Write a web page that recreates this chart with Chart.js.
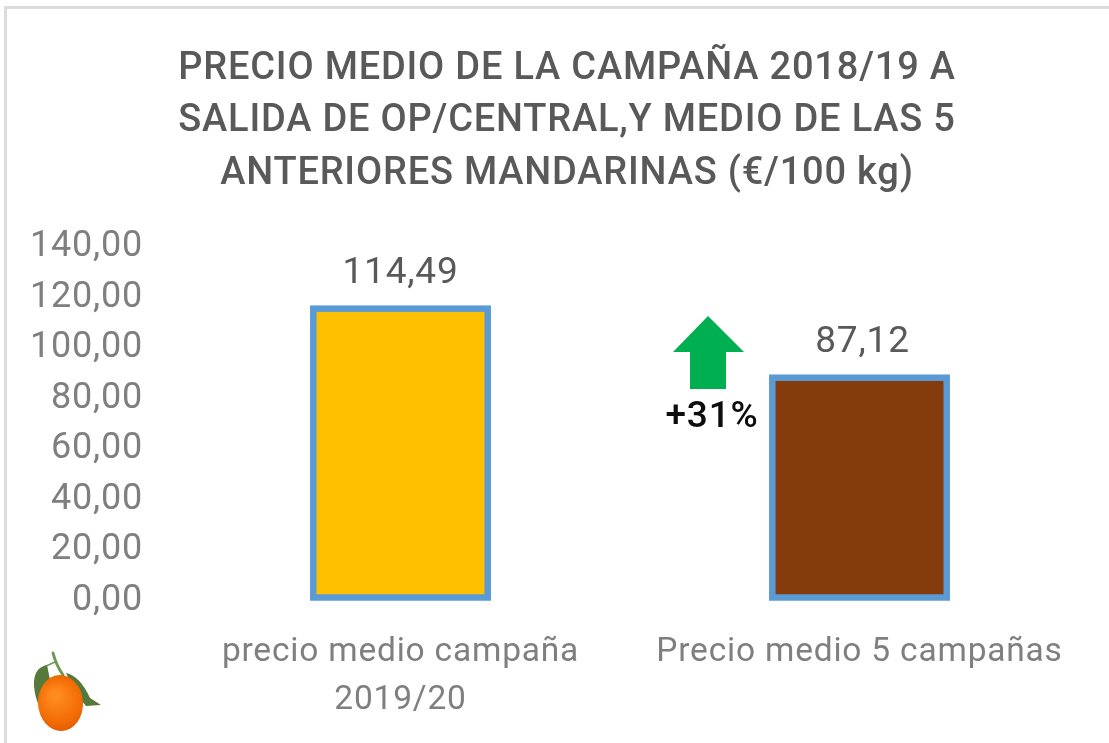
<!DOCTYPE html>
<html><head><meta charset="utf-8">
<style>
html,body{margin:0;padding:0;background:#fff;width:1109px;height:743px;overflow:hidden}
#frame{position:absolute;left:4px;top:6px;width:1105px;height:737px;box-sizing:border-box;border-left:3px solid #dcdcdc;border-top:3px solid #dcdcdc}
#wrap{position:absolute;left:0;top:0;width:1109px;height:743px}
</style>
<script src="https://cdn.jsdelivr.net/npm/chart.js@4"></script>
</head><body>
<div id="frame"></div>
<div id="wrap"><canvas id="c" width="1109" height="743"></canvas></div>
<script>
const titleLines = ["PRECIO MEDIO DE LA CAMPAÑA 2018/19 A","SALIDA DE OP/CENTRAL,Y MEDIO DE LAS 5","ANTERIORES MANDARINAS (€/100 kg)"];
const categories = [["precio medio campaña","2019/20"],"Precio medio 5 campañas"];
const values = [114.49, 87.12];
const barColors = ["#FFC000","#843C0C"];
const changeLabel = "+31%";
const FONT = "Roboto, sans-serif";
const fmt = v => v.toFixed(2).replace(".", ",");

const extras = {
  id:"extras",
  beforeLayout(chart){ chart.ctx.letterSpacing="0.8px"; },
  afterLayout(chart){ chart.titleBlock.left=25; chart.titleBlock.right=1109; },
  beforeDraw(chart){ chart.ctx.letterSpacing="0.8px"; },
  afterDatasetsDraw(chart){
    const ctx = chart.ctx, x = chart.scales.x, y = chart.scales.y;
    ctx.save();
    // bar outlines centred on the bar edge
    ctx.strokeStyle="#5B9BD5"; ctx.lineWidth=6.5; ctx.lineJoin="miter";
    chart.getDatasetMeta(0).data.forEach(b=>{
      ctx.strokeRect(b.x-b.width/2,b.y,b.width,b.base-b.y);
    });
    // value labels
    ctx.fillStyle="#595959"; ctx.font="400 37px "+FONT; ctx.textAlign="center"; ctx.textBaseline="alphabetic";
    values.forEach((v,i)=>ctx.fillText(fmt(v), x.getPixelForValue(i)+(i?3:0), y.getPixelForValue(v)-26));
    // arrow
    ctx.fillStyle="#00B050";
    ctx.beginPath();
    [[708,316],[744,352],[726,352],[726,389],[690,389],[690,352],[673,352]].forEach((p,i)=>i?ctx.lineTo(p[0],p[1]):ctx.moveTo(p[0],p[1]));
    ctx.closePath(); ctx.fill();
    ctx.fillStyle="#0d0d0d"; ctx.font="500 37px "+FONT;
    ctx.fillText(changeLabel,712,427);
    // mandarin
    ctx.strokeStyle="#6f9a55"; ctx.lineWidth=3; ctx.lineCap="round";
    ctx.beginPath(); ctx.moveTo(53,653); ctx.quadraticCurveTo(56,665,63,675); ctx.stroke();
    ctx.lineWidth=1.5; ctx.beginPath(); ctx.moveTo(55,662); ctx.lineTo(44,667); ctx.stroke();
    ctx.fillStyle="#55793a";
    ctx.beginPath(); ctx.moveTo(47,665); ctx.quadraticCurveTo(33,668,34,686); ctx.quadraticCurveTo(35,698,40,708); ctx.lineTo(50,680); ctx.closePath(); ctx.fill();
    ctx.beginPath(); ctx.moveTo(66,673); ctx.quadraticCurveTo(80,676,90,698); ctx.lineTo(101,705); ctx.lineTo(86,706); ctx.quadraticCurveTo(76,695,66,673); ctx.fill();
    const g = ctx.createRadialGradient(55,695,4,60,702,30);
    g.addColorStop(0,"#ff8a1e"); g.addColorStop(.7,"#f26c05"); g.addColorStop(1,"#e25a00");
    ctx.fillStyle=g;
    ctx.beginPath(); ctx.ellipse(60.5,703,22.5,28,-0.05,0,Math.PI*2); ctx.fill();
    ctx.restore();
  }
};

new Chart(document.getElementById("c"),{
  type:"bar",
  data:{labels:categories,datasets:[{data:values,backgroundColor:barColors,borderWidth:0,barPercentage:1,categoryPercentage:0.38}]},
  options:{
    responsive:false,animation:false,
    layout:{padding:{left:0,right:20,top:43,bottom:17}},
    plugins:{legend:{display:false},tooltip:{enabled:false},
      title:{display:true,text:titleLines,color:"#595959",font:{family:FONT,size:38,weight:"500",lineHeight:1.38},padding:{top:0,bottom:44}}},
    scales:{
      x:{grid:{display:false},border:{display:false},
         afterFit(s){s.height=128.5;},
         ticks:{color:"#7f7f7f",font:{family:FONT,size:33.5,lineHeight:1.44},padding:23,maxRotation:0,autoSkip:false}},
      y:{min:0,max:140,grid:{display:false},border:{display:false},
         afterFit(s){s.width=171;},
         ticks:{stepSize:20,color:"#7f7f7f",font:{family:FONT,size:36},padding:20,labelOffset:3,callback:v=>fmt(v)}}
    }
  },
  plugins:[extras]
});
</script>
</body></html>
